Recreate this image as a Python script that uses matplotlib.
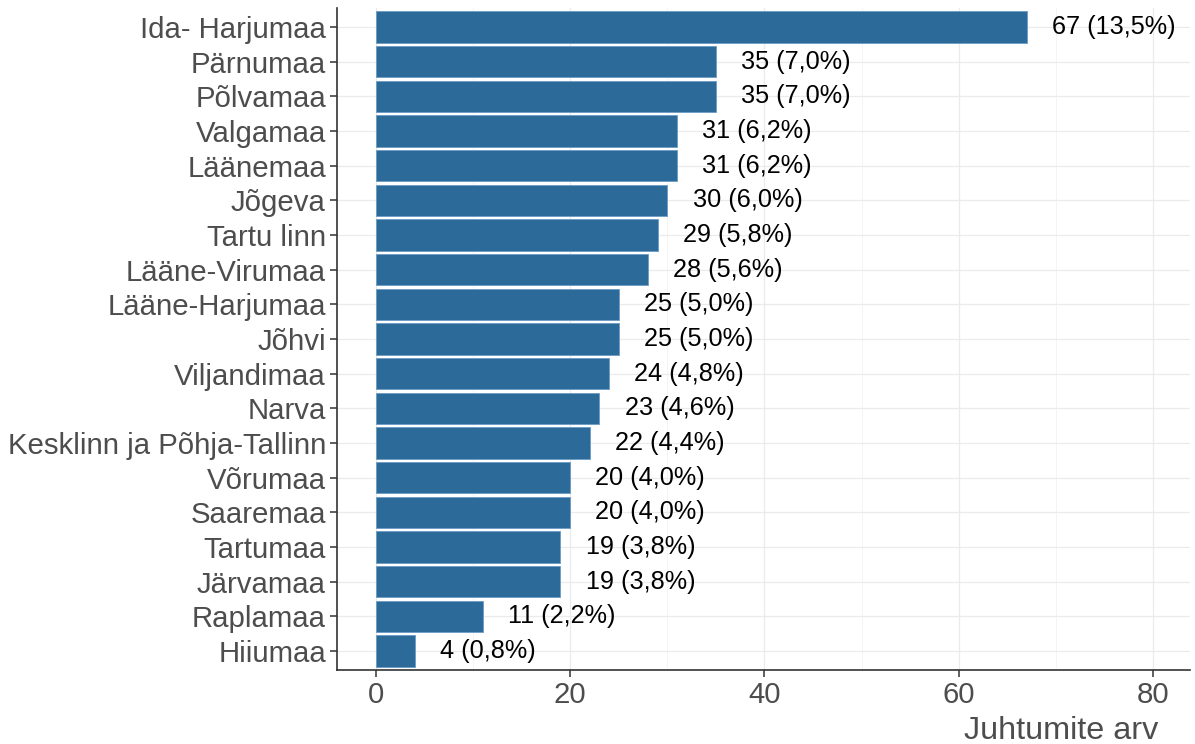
import matplotlib.pyplot as plt

regions = ["Ida- Harjumaa", "Pärnumaa", "Põlvamaa", "Valgamaa", "Läänemaa", "Jõgeva",
           "Tartu linn", "Lääne-Virumaa", "Lääne-Harjumaa", "Jõhvi", "Viljandimaa", "Narva",
           "Kesklinn ja Põhja-Tallinn", "Võrumaa", "Saaremaa", "Tartumaa", "Järvamaa",
           "Raplamaa", "Hiiumaa"]
counts = [67, 35, 35, 31, 31, 30, 29, 28, 25, 25, 24, 23, 22, 20, 20, 19, 19, 11, 4]
shares = ["13,5", "7,0", "7,0", "6,2", "6,2", "6,0", "5,8", "5,6", "5,0", "5,0", "4,8",
          "4,6", "4,4", "4,0", "4,0", "3,8", "3,8", "2,2", "0,8"]
xticks = [0, 20, 40, 60, 80]

plt.rcParams['font.family'] = ['Liberation Sans', 'DejaVu Sans']

fig = plt.figure(figsize=(11.95, 7.44), dpi=100)
ax = fig.add_axes([337 / 1195, 1 - 670 / 744, (1190 - 337) / 1195, (670 - 8) / 744])

n = len(regions)
ypos = list(range(n, 0, -1))
ax.barh(ypos, counts, height=0.9, color="#2c6a99", edgecolor="#6a9cc4", linewidth=0.6, zorder=2)
for y, c, s in zip(ypos, counts, shares):
    ax.text(c + 2.6, y, f"{c} ({s}%)", va="center", ha="left", fontsize=18.2, color="black", zorder=3)

ax.set_xlim(-4.0, 83.8)
ax.set_ylim(0.45, n + 0.55)
ax.set_yticks(ypos)
ax.set_yticklabels(regions)
ax.set_xticks(xticks)
ax.set_xticks([10, 30, 50, 70], minor=True)

ax.grid(True, which="major", color="#ebebeb", linewidth=0.9, zorder=0)
ax.grid(True, which="minor", axis="x", color="#f2f2f2", linewidth=0.6, zorder=0)
ax.set_axisbelow(True)

ax.tick_params(axis="both", which="major", labelsize=21.2, labelcolor="#4d4d4d",
               color="#333333", length=5, width=1.1)
ax.tick_params(axis="x", which="minor", length=0)
ax.tick_params(axis="y", pad=3)
ax.tick_params(axis="x", pad=3)

for side in ["top", "right"]:
    ax.spines[side].set_visible(False)
for side in ["left", "bottom"]:
    ax.spines[side].set_color("#333333")
    ax.spines[side].set_linewidth(1.2)

# axis title sits near the bottom-right, as in the reference
fig.text(1158 / 1195, 5 / 744, "Juhtumite arv", fontsize=23.3, color="#4d4d4d",
         ha="right", va="baseline")

fig.savefig("out.png", dpi=100)
